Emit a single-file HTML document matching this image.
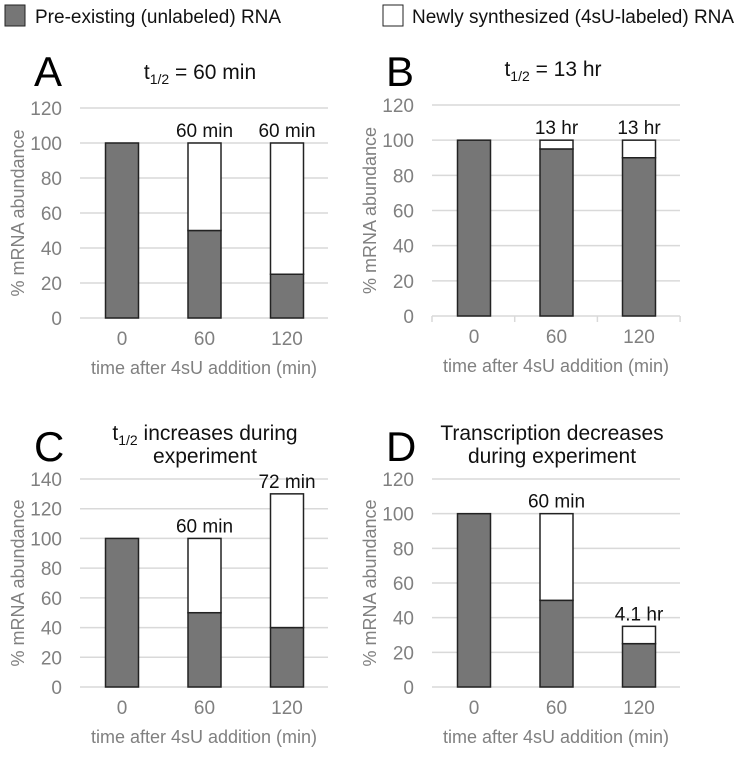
<!DOCTYPE html>
<html><head><meta charset="utf-8"><style>
body{margin:0;background:#fff;width:754px;height:755px;overflow:hidden}
svg{font-family:"Liberation Sans",sans-serif}
</style></head><body>
<svg id="s" width="754" height="755" viewBox="0 0 754 755">
<g>
<rect x="5" y="5" width="20" height="21" fill="#767676" stroke="#222"/>
<text x="35" y="23" font-size="19" fill="#111">Pre-existing (unlabeled) RNA</text>
<rect x="383" y="5" width="20" height="21" fill="#fff" stroke="#222"/>
<text x="412" y="23" font-size="19" fill="#111">Newly synthesized (4sU-labeled) RNA</text>
</g>
</svg>
<script>
const categories=["0","60","120"];
const oldA=[100,50,25], newA=[0,50,75], lblA=["","60 min","60 min"];
const oldB=[100,95,90], newB=[0,5,10], lblB=["","13 hr","13 hr"];
const oldC=[100,50,40], newC=[0,50,90], lblC=["","60 min","72 min"];
const oldD=[100,50,25], newD=[0,50,10], lblD=["","60 min","4.1 hr"];
const ticksABD=[0,20,40,60,80,100,120];
const ticksC=[0,20,40,60,80,100,120,140];
const NS="http://www.w3.org/2000/svg", svg=document.getElementById('s');
function mk(t,a,p,txt){const e=document.createElementNS(NS,t);for(const k in a)e.setAttribute(k,a[k]);if(txt!=null)e.textContent=txt;(p||svg).appendChild(e);return e;}
function panel(id,ox,top,bot,max,ticks,olds,news,lbls,letter,titles,ly,xticks){
 const g=mk('g',{});
 
 
 const x0=ox+80,x1=ox+328;
 const y=v=>bot-(v/max)*(bot-top);
 const cx=i=>ox+122+i*82.5;
 ticks.forEach(t=>{
  const l=mk('line',{x1:x0,x2:x1,y1:y(t),y2:y(t),stroke:'#d9d9d9','stroke-width':1.5},g);
  
  
  const tx=mk('text',{x:ox+62,y:y(t)+7,'font-size':19,fill:'#808080','text-anchor':'end'},g,String(t));
  
  
 });
 if(xticks){for(let k=0;k<=3;k++){
  const tm=mk('line',{x1:x0+k*82.7,x2:x0+k*82.7,y1:bot,y2:bot+6,stroke:'#d9d9d9','stroke-width':1.5},g);
  
  
 }}
 categories.forEach((c,i)=>{
  const bx=cx(i)-16.5;
  const r1=mk('rect',{x:bx,y:y(olds[i]),width:33,height:y(0)-y(olds[i]),fill:'#767676',stroke:'#222','stroke-width':1.5},g);
  
  
  if(news[i]>0){
   const r2=mk('rect',{x:bx,y:y(olds[i]+news[i]),width:33,height:y(olds[i])-y(olds[i]+news[i]),fill:'#fff',stroke:'#222','stroke-width':1.5},g);
   
   
  }
  if(lbls[i]){
   const t=mk('text',{x:cx(i),y:y(olds[i]+news[i])-6,'font-size':19,fill:'#111','text-anchor':'middle'},g,lbls[i]);
   
   
  }
  const xt=mk('text',{x:cx(i),y:bot+27,'font-size':19,fill:'#808080','text-anchor':'middle'},g,c);
  
  
 });
 const xa=mk('text',{x:ox+204,y:bot+56,'font-size':18,fill:'#808080','text-anchor':'middle'},g,'time after 4sU addition (min)');
 
 
 const ym=(top+bot)/2;
 const ya=mk('text',{x:0,y:0,'font-size':18,fill:'#808080','text-anchor':'middle',transform:`translate(${ox+24},${ym}) rotate(-90)`},g,'% mRNA abundance');
 
 
 const L=mk('text',{x:ox+34,y:ly,'font-size':42,fill:'#000'},g,letter);
 
 
 titles.forEach(([html,tx,ty])=>{
  const t=mk('text',{x:ox+tx,y:ty,'font-size':21,fill:'#111','text-anchor':'middle'},g);
  t.innerHTML=html;
  
  
 });
}
const half='t<tspan font-size="14" dy="5">1/2</tspan><tspan dy="-5">';
panel('a',0,108,318,120,ticksABD,oldA,newA,lblA,'A',[[half+' = 60 min</tspan>',200,79]],86,false);
panel('b',352,105,316,120,ticksABD,oldB,newB,lblB,'B',[[half+' = 13 hr</tspan>',201,76]],86,true);
panel('c',0,479,687,140,ticksC,oldC,newC,lblC,'C',[[half+' increases during</tspan>',205,440],['experiment',205,463]],461,false);
panel('d',352,479,687,120,ticksABD,oldD,newD,lblD,'D',[['Transcription decreases',200,440],['during experiment',200,463]],461,false);
</script>
</body></html>
